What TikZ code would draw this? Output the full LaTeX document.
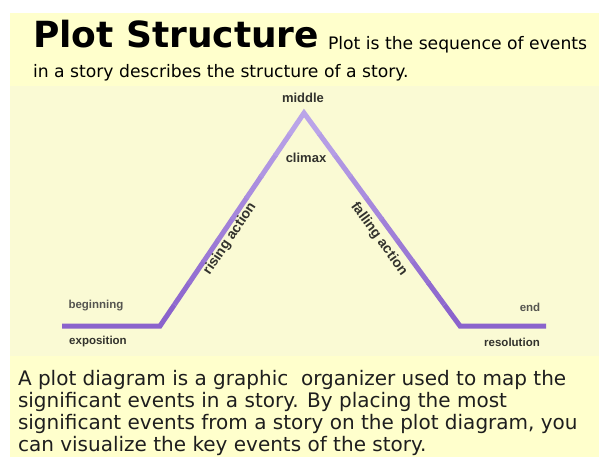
\documentclass[tikz,border=0pt]{standalone}
\usepackage{fontspec}
\usetikzlibrary{calc}
\setmainfont{DejaVu Sans}
\newfontfamily\labelfont{Liberation Sans}
\begin{document}
\definecolor{headbg}{RGB}{255,255,204}
\definecolor{diagbg}{RGB}{250,250,212}
\definecolor{plotline}{RGB}{139,99,204}
\definecolor{plotlight}{RGB}{186,164,232}
\definecolor{labeltext}{RGB}{50,50,45}
\definecolor{softtext}{RGB}{85,85,80}
\definecolor{bodytext}{RGB}{30,30,30}
\begin{tikzpicture}[x=1pt,y=-1pt,
  every node/.style={inner sep=0pt,outer sep=0pt},
  lbl/.style={font=\labelfont\bfseries\fontsize{11.5}{13}\selectfont,text=labeltext},
  softlbl/.style={font=\labelfont\bfseries\fontsize{11.5}{13}\selectfont,text=softtext},
  biglbl/.style={font=\labelfont\bfseries\fontsize{13}{15}\selectfont,text=labeltext},
  slopelbl/.style={font=\labelfont\bfseries\fontsize{14}{16}\selectfont,text=labeltext},
  sub/.style={font=\fontsize{17.2}{20}\selectfont,text=black,anchor=base west},
  body/.style={font=\fontsize{20}{22}\selectfont,text=bodytext,anchor=base west},
  plot/.style={line width=5pt,line join=miter,line cap=butt}]
\useasboundingbox (0,0) rectangle (599,457);
\fill[white] (0,0) rectangle (599,457);
\fill[headbg] (10,13) rectangle (599,457);
\fill[diagbg] (10,86) rectangle (599,356);
% title
\node[anchor=base west,font=\bfseries\fontsize{36}{40}\selectfont] (title) at (33,48) {Plot Structure};
\node[sub] (sub1) at (328,50) {Plot is the sequence of events};
\node[sub] (sub2) at (33,78) {in a story describes the structure of a story.};
% plot line
\coordinate (A) at (62,326);
\coordinate (B) at (160,326);
\coordinate (C) at (304,113);
\coordinate (D) at (460,326);
\coordinate (E) at (546,326);
\draw[plot,draw=plotline] (A) -- (B) -- ($(B)!0.1!(C)$);
\draw[plot,draw=plotline] ($(D)!0.1!(C)$) -- (D) -- (E);
\foreach \i in {1,...,8}{
  \pgfmathsetmacro{\ta}{\i/10}
  \pgfmathsetmacro{\tb}{(\i+1)/10+0.005}
  \pgfmathsetmacro{\mix}{\i*100/9}
  \colorlet{segcol}{plotlight!\mix!plotline}
  \draw[plot,draw=segcol] ($(B)!\ta!(C)$) -- ($(B)!\tb!(C)$);
  \draw[plot,draw=segcol] ($(D)!\ta!(C)$) -- ($(D)!\tb!(C)$);
}
\draw[plot,draw=plotlight] ($(B)!0.9!(C)$) -- (C) -- ($(D)!0.9!(C)$);
% labels
\node[biglbl] (middle) at (303,98) {middle};
\node[biglbl] (climax) at (306,158) {climax};
\node[softlbl] (beginning) at (96,306) {beginning};
\node[lbl] (exposition) at (98,342) {exposition};
\node[softlbl] (end) at (530,307) {end};
\node[lbl] (resolution) at (512,342) {resolution};
\node[slopelbl,rotate=56] (rising) at (230,239) {rising action};
\node[slopelbl,rotate=-54] (falling) at (379,239) {falling action};
% body
\node[body] (b1) at (18,385) {A plot diagram is a graphic\ \ organizer used to map the};
\node[body] (b2) at (18,407) {significant events in a story. By placing the most};
\node[body] (b3) at (18,429) {significant events from a story on the plot diagram, you};
\node[body] (b4) at (18,451) {can visualize the key events of the story.};
\end{tikzpicture}
\end{document}
